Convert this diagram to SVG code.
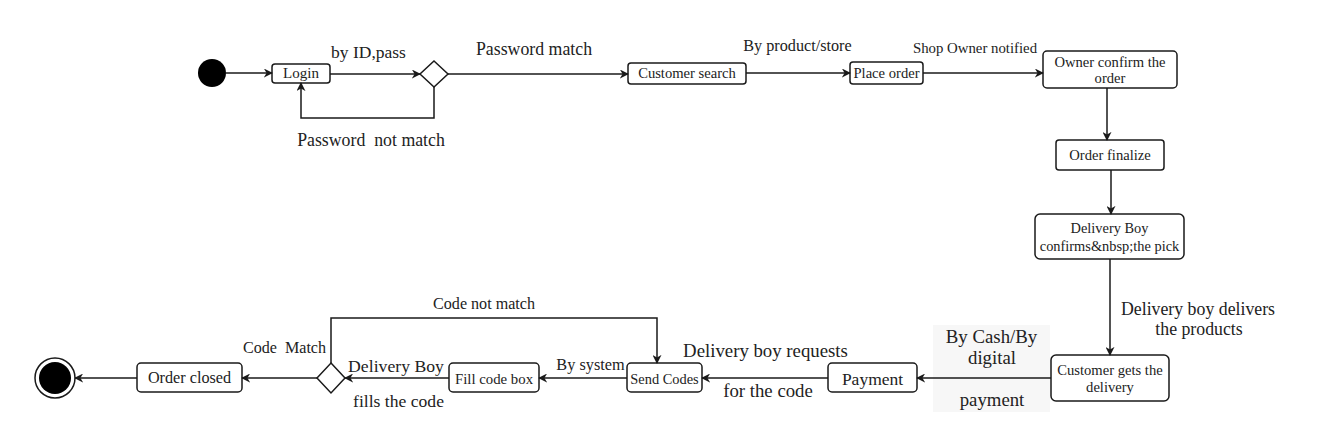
<svg xmlns="http://www.w3.org/2000/svg" width="1322" height="447" viewBox="0 0 1322 447">
<style>
.n{fill:#fff;stroke:#1a1a1a;stroke-width:1.5}
.t{font-family:"Liberation Serif","Times New Roman",serif;fill:#222;text-anchor:middle}
.c{fill:none;stroke:#1a1a1a;stroke-width:1.5}
</style>
<defs>
<marker id="a" viewBox="0 0 10 10" refX="9" refY="5" markerWidth="9" markerHeight="9" markerUnits="userSpaceOnUse" orient="auto">
<path d="M0,0 L10,5 L0,10 L3,5 Z" fill="#1a1a1a"/>
</marker>
</defs>
<rect width="1322" height="447" fill="#fff"/>
<g id="start"><circle cx="212" cy="73" r="14" fill="#000"/></g>
<g id="login"><rect class="n" x="272" y="64" width="58" height="19" rx="3"/><text class="t" x="301" y="78" font-size="15">Login</text></g>
<g id="decision1"><path class="n" d="M434,61 L448,74 L434,87 L420,74 Z"/></g>
<g id="customer-search"><rect class="n" x="628" y="63" width="118" height="21" rx="3"/><text class="t" x="687" y="78" font-size="14.6">Customer search</text></g>
<g id="place-order"><rect class="n" x="850" y="62" width="73" height="22" rx="3"/><text class="t" x="886.5" y="78" font-size="14.6">Place order</text></g>
<g id="owner-confirm"><rect class="n" x="1043" y="51" width="134" height="37" rx="4"/><text class="t" x="1110" y="67" font-size="14.6">Owner confirm the</text><text class="t" x="1110" y="83" font-size="14.6">order</text></g>
<g id="order-finalize"><rect class="n" x="1056" y="140" width="108" height="30" rx="3"/><text class="t" x="1110" y="160" font-size="14.6">Order finalize</text></g>
<g id="delivery-confirm"><rect class="n" x="1035" y="214" width="149" height="45" rx="5"/><text class="t" x="1109.5" y="233" font-size="14.4">Delivery Boy</text><text class="t" x="1109.5" y="251" font-size="14.4">confirms&amp;nbsp;the pick</text></g>
<g id="customer-gets"><rect class="n" x="1051" y="355" width="118" height="46" rx="5"/><text class="t" x="1110" y="375" font-size="14.6">Customer gets the</text><text class="t" x="1110" y="392" font-size="14.6">delivery</text></g>
<g id="payment"><rect class="n" x="828" y="363" width="89" height="29" rx="4"/><text class="t" x="872.5" y="385" font-size="17.5">Payment</text></g>
<g id="send-codes"><rect class="n" x="627" y="363" width="75" height="29" rx="4"/><text class="t" x="664.5" y="384" font-size="14.4">Send Codes</text></g>
<g id="fill-code"><rect class="n" x="449" y="363" width="90" height="29" rx="4"/><text class="t" x="494" y="384" font-size="14.8">Fill code box</text></g>
<g id="decision2"><path class="n" d="M331,363 L345,378 L331,393 L317,378 Z"/></g>
<g id="order-closed"><rect class="n" x="137" y="363" width="105" height="29" rx="4"/><text class="t" x="189.5" y="383" font-size="16.2">Order closed</text></g>
<g id="end"><circle cx="55" cy="378" r="20" fill="#fff" stroke="#1a1a1a" stroke-width="1.5"/><circle cx="55" cy="378" r="16" fill="#000"/></g>
<g id="connectors">
<path class="c" d="M226,73 L272,73" marker-end="url(#a)"/>
<path class="c" d="M330,74 L420,74" marker-end="url(#a)"/>
<path class="c" d="M434,87 L434,118 L301,118 L301,83" marker-end="url(#a)"/>
<path class="c" d="M448,74 L628,74" marker-end="url(#a)"/>
<path class="c" d="M746,73 L850,73" marker-end="url(#a)"/>
<path class="c" d="M923,73 L1043,73" marker-end="url(#a)"/>
<path class="c" d="M1107,88 L1107,140" marker-end="url(#a)"/>
<path class="c" d="M1111,170 L1111,214" marker-end="url(#a)"/>
<path class="c" d="M1110,259 L1110,355" marker-end="url(#a)"/>
<rect x="933" y="325" width="117" height="87" fill="#f7f7f7"/>
<path class="c" d="M1051,378 L917,378" marker-end="url(#a)"/>
<path class="c" d="M828,378 L702,378" marker-end="url(#a)"/>
<path class="c" d="M627,378 L539,378" marker-end="url(#a)"/>
<path class="c" d="M449,378 L345,378" marker-end="url(#a)"/>
<path class="c" d="M331,363 L331,318 L657,318 L657,363" marker-end="url(#a)"/>
<path class="c" d="M317,378 L242,378" marker-end="url(#a)"/>
<path class="c" d="M137,378 L75,378" marker-end="url(#a)"/>
</g>
<g id="labels">
<text class="t" x="368.5" y="58" font-size="17.5">by ID,pass</text>
<text class="t" x="371" y="146" font-size="17.8" xml:space="preserve">Password  not match</text>
<text class="t" x="534" y="55" font-size="17.8">Password match</text>
<text class="t" x="797.5" y="51" font-size="16.2">By product/store</text>
<text class="t" x="975" y="53" font-size="14.8">Shop Owner notified</text>
<text class="t" x="1198" y="315" font-size="17.8">Delivery boy delivers</text>
<text class="t" x="1199" y="335" font-size="17.8">the products</text>
<text class="t" x="991.5" y="343" font-size="18.8">By Cash/By</text>
<text class="t" x="992" y="364" font-size="18.8">digital</text>
<text class="t" x="992" y="406" font-size="18.8">payment</text>
<text class="t" x="765.5" y="357" font-size="18.8">Delivery boy requests</text>
<text class="t" x="768" y="397" font-size="18.8">for the code</text>
<text class="t" x="590.5" y="370" font-size="16.3">By system</text>
<text class="t" x="396" y="372" font-size="17.7">Delivery Boy</text>
<text class="t" x="398.5" y="407" font-size="17.6">fills the code</text>
<text class="t" x="484" y="309" font-size="16.1">Code not match</text>
<text class="t" x="284.5" y="353" font-size="16.1" xml:space="preserve">Code  Match</text>
</g>
</svg>
